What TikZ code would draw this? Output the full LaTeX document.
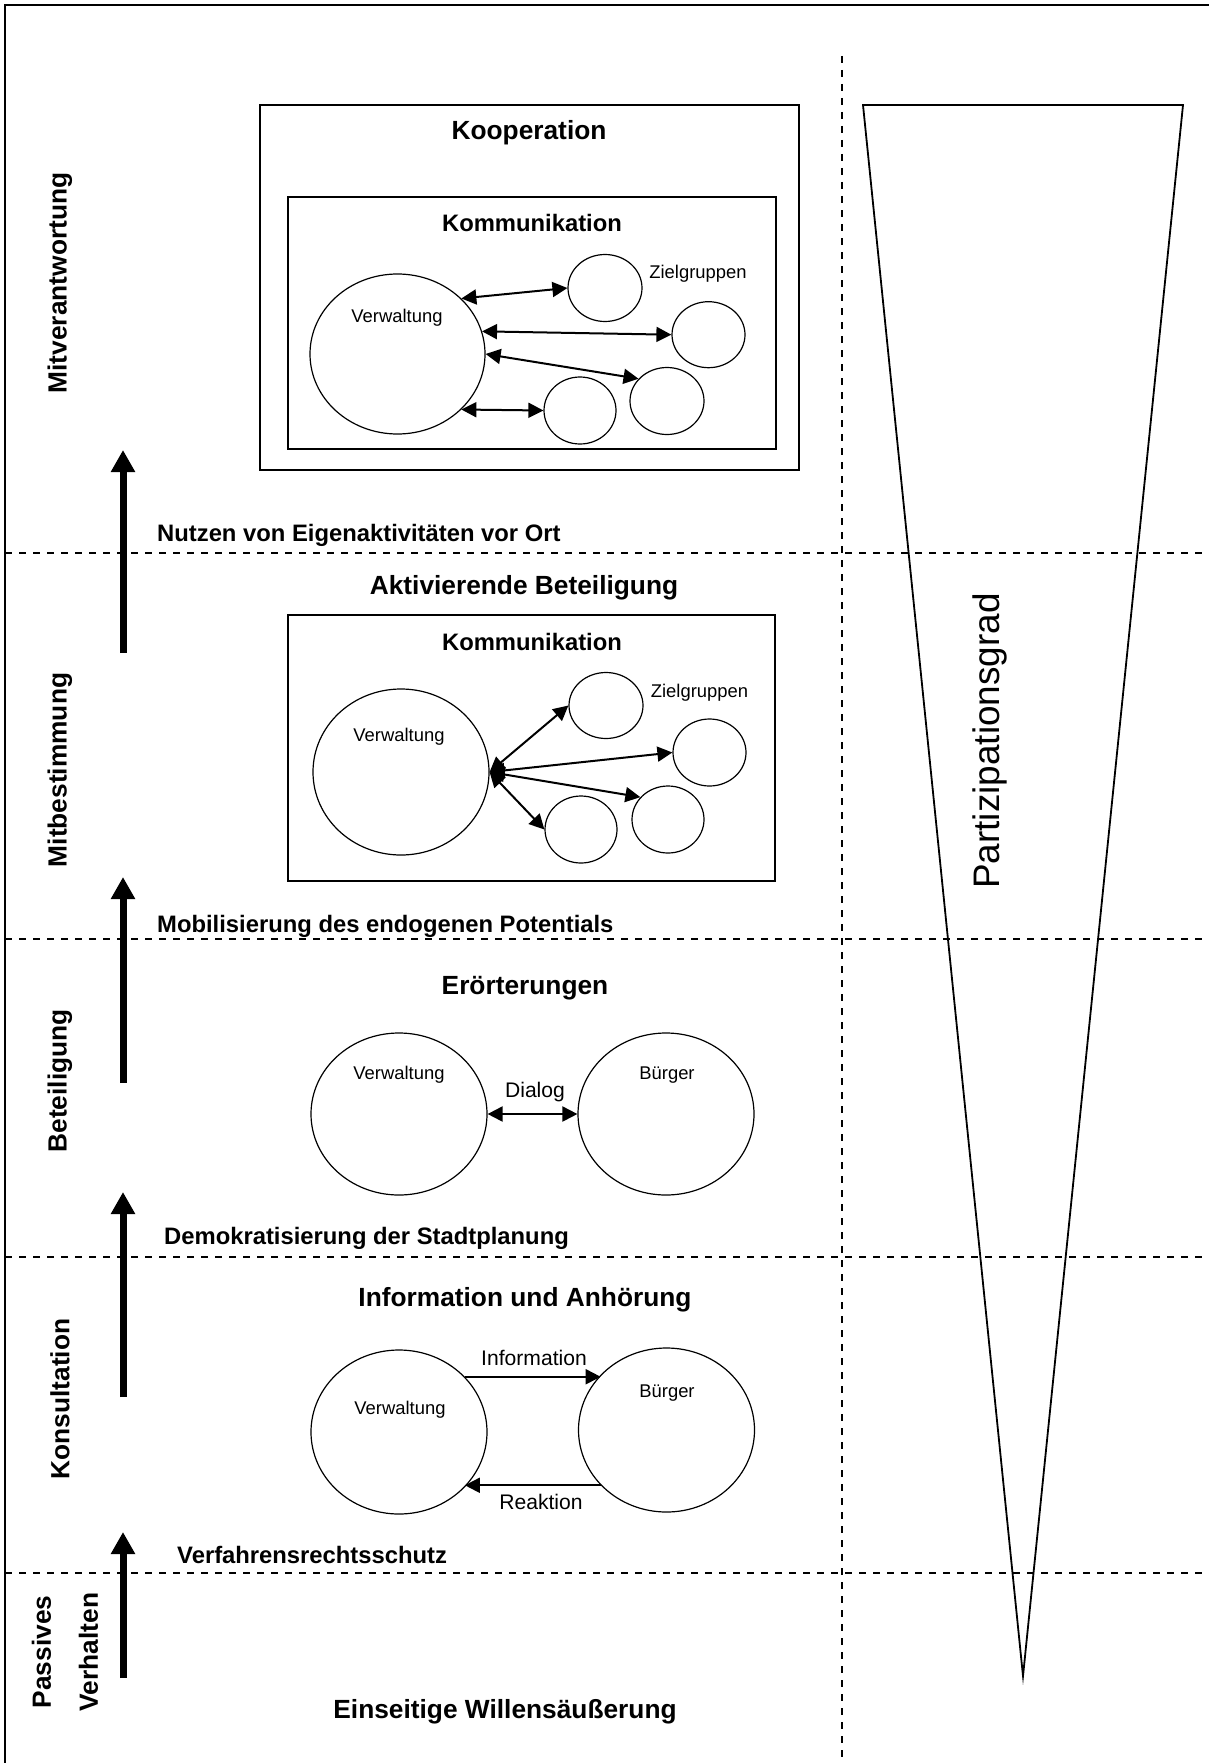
\documentclass[tikz,border=0pt]{standalone}
\usepackage{fontspec}
\setmainfont{Liberation Sans}
\usetikzlibrary{arrows.meta,positioning,shapes.geometric}

\begin{document}
\begin{tikzpicture}[x=1pt,y=-1pt,
  stagetitle/.style={font=\fontsize{26.3}{30}\selectfont\bfseries,inner sep=0pt},
  steplabel/.style={font=\fontsize{23.8}{28}\selectfont\bfseries,inner sep=0pt},
  levellabel/.style={font=\fontsize{26.3}{47}\selectfont\bfseries,rotate=90,inner sep=0pt,align=center},
  smalltext/.style={font=\fontsize{18.4}{22}\selectfont,inner sep=0pt},
  flowtext/.style={font=\fontsize{21.1}{25}\selectfont,inner sep=0pt},
  actor/.style={ellipse,draw,line width=1.2pt,inner sep=0pt},
  stagebox/.style={draw,line width=1.5pt,inner sep=0pt},
  divider/.style={line width=1.6pt,dash pattern=on 7pt off 7pt},
  rise/.style={line width=7pt,-{Triangle[length=22pt,width=23pt]}},
  dialog/.style={line width=2pt,{Triangle[length=15pt,width=15pt]}-{Triangle[length=15pt,width=15pt]}},
  oneway/.style={line width=2pt,-{Triangle[length=15pt,width=15pt]}}
]
  \useasboundingbox (0,0) rectangle (1209,1763);
  \draw[line width=2pt] (1209,5) -- (5,5) -- (5,1763);
  \foreach \yy in {553,939,1257,1573}
    \draw[divider] (5,\yy) -- (1209,\yy);
  \draw[divider] (842,56) -- (842,1763);

  \coordinate (gradA) at (863,105);
  \coordinate (gradB) at (1183,105);
  \coordinate (gradC) at (1023,1676);
  \draw[line width=1.8pt] (gradA) -- (gradB) -- (gradC) -- cycle;
  \node[font=\fontsize{36.9}{40}\selectfont,rotate=90,inner sep=0pt] (grad) at (990,741) {Partizipationsgrad};

  \foreach \ys/\ye [count=\i] in {1678/1532,1397/1192,1083/877,653/450} {
    \coordinate (rs\i) at (123,\ys);
    \coordinate (re\i) at (123,\ye);
    \draw[rise] (rs\i) -- (re\i);
  }

  \node[levellabel] (lvMit) at (60,283) {Mitverantwortung};
  \node[levellabel] (lvBest) at (60,770) {Mitbestimmung};
  \node[levellabel] (lvBet) at (60,1081) {Beteiligung};
  \node[levellabel] (lvKons) at (60,1399) {Konsultation};
  \node[levellabel] (lvPass) at (65,1652) {Passives\\Verhalten};

  \node[steplabel,anchor=west] (stNutz) at (157,535) {Nutzen von Eigenaktivitäten vor Ort};
  \node[steplabel,anchor=west] (stMob) at (157,926) {Mobilisierung des endogenen Potentials};
  \node[steplabel,anchor=west] (stDem) at (164,1238) {Demokratisierung der Stadtplanung};
  \node[steplabel,anchor=west] (stVerf) at (177,1555) {Verfahrensrechtsschutz};

  \node[stagebox,minimum width=539,minimum height=365] (koopBox) at (529.5,287.5) {};
  \node[stagetitle] (koopT) at (529,133) {Kooperation};
  \node[stagebox,minimum width=488,minimum height=252] (kommA) at (532,323) {};
  \node[steplabel] (kommAT) at (532,223) {Kommunikation};
  \node[actor,minimum width=175,minimum height=160] (vwA) at (397.5,354) {};
  \node[actor,minimum width=74,minimum height=67] (zA1) at (605,288) {};
  \node[actor,minimum width=73,minimum height=66] (zA2) at (708.5,334.7) {};
  \node[actor,minimum width=74,minimum height=67] (zA3) at (667,401) {};
  \node[actor,minimum width=72,minimum height=67] (zA4) at (580,410.5) {};
  \node[smalltext] (vwAT) at (397,318) {Verwaltung};
  \node[smalltext] (zAT) at (698,274) {Zielgruppen};
  \draw[dialog] (vwA.41) -- (zA1.west);
  \draw[dialog] (vwA.15) -- (zA2.west);
  \draw[dialog] (vwA.east) -- (zA3.142);
  \draw[dialog] (vwA.-41) -- (zA4.west);

  \node[stagetitle] (aktT) at (524,588) {Aktivierende Beteiligung};
  \node[stagebox,minimum width=487,minimum height=266] (kommB) at (531.5,748) {};
  \node[steplabel] (kommBT) at (532,642) {Kommunikation};
  \node[actor,minimum width=176,minimum height=166] (vwB) at (401,772) {};
  \node[actor,minimum width=74,minimum height=66] (zB1) at (606,705.5) {};
  \node[actor,minimum width=73,minimum height=67] (zB2) at (709.5,752.5) {};
  \node[actor,minimum width=72,minimum height=67] (zB3) at (668,819.5) {};
  \node[actor,minimum width=72,minimum height=67] (zB4) at (581,829.5) {};
  \node[smalltext] (vwBT) at (399,737) {Verwaltung};
  \node[smalltext] (zBT) at (699.5,693) {Zielgruppen};
  \draw[dialog] (vwB.east) -- (zB1.west);
  \draw[dialog] (vwB.east) -- (zB2.west);
  \draw[dialog] (vwB.east) -- (zB3.141);
  \draw[dialog] (vwB.east) -- (zB4.west);

  \node[stagetitle] (eroT) at (525,988) {Erörterungen};
  \node[actor,minimum width=176,minimum height=162] (vwC) at (399,1114) {};
  \node[actor,minimum width=176,minimum height=162] (bgC) at (666,1114) {};
  \node[smalltext] (vwCT) at (399,1075) {Verwaltung};
  \node[smalltext] (bgCT) at (667,1075) {Bürger};
  \draw[dialog] (vwC.east) -- (bgC.west);
  \node[flowtext] (dlgT) at (535,1092) {Dialog};

  \node[stagetitle] (infT) at (525,1300) {Information und Anhörung};
  \node[actor,minimum width=176,minimum height=164] (vwD) at (399,1432) {};
  \node[actor,minimum width=176,minimum height=164] (bgD) at (666.5,1430) {};
  \node[smalltext] (vwDT) at (400,1410) {Verwaltung};
  \node[smalltext] (bgDT) at (667,1393) {Bürger};
  \draw[oneway] (vwD.40) -- (vwD.40 -| bgD.140);
  \draw[oneway] (bgD.220) -- (bgD.220 -| vwD.320);
  \node[flowtext] (infoT) at (534,1358) {Information};
  \node[flowtext] (reakT) at (541,1502) {Reaktion};

  \node[stagetitle] (einT) at (505,1712) {Einseitige Willensäußerung};
\end{tikzpicture}
\end{document}
